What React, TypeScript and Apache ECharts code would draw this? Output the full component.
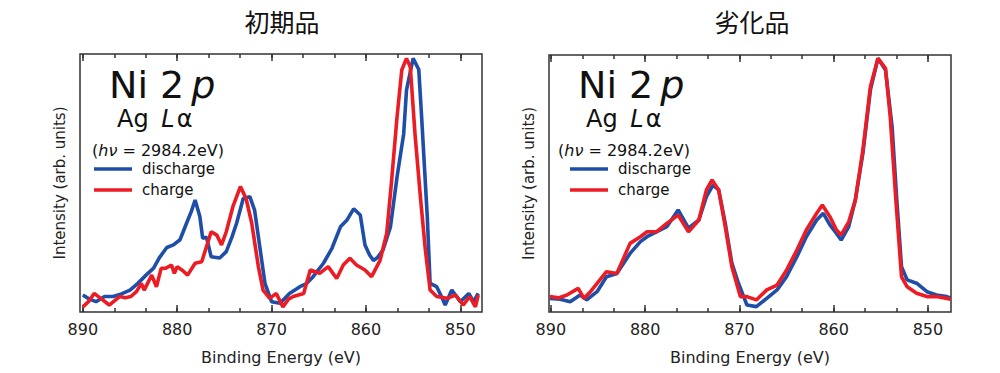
import React, { useEffect, useRef } from "react";
import * as echarts from "echarts";

// Binding energy (eV) vs normalized intensity
const initialDischarge: [number, number][] = [
  [890.0, 0.066], [889.3, 0.05], [888.6, 0.04], [887.7, 0.06], [886.8, 0.06], [885.9, 0.07],
  [885.0, 0.085], [884.2, 0.11], [883.3, 0.143], [882.5, 0.17], [881.9, 0.21], [881.1, 0.25],
  [880.4, 0.26], [879.7, 0.28], [879.0, 0.345], [878.5, 0.39], [878.1, 0.434], [877.6, 0.37],
  [877.3, 0.286], [876.9, 0.29], [876.4, 0.214], [875.5, 0.209], [874.8, 0.234], [874.2, 0.29],
  [873.7, 0.345], [873.0, 0.44], [872.3, 0.447], [871.8, 0.395], [871.2, 0.24], [870.7, 0.111],
  [870.0, 0.04], [869.1, 0.034], [868.1, 0.072], [867.0, 0.098], [866.3, 0.11], [865.6, 0.137],
  [864.5, 0.189], [863.6, 0.247], [862.7, 0.33], [862.0, 0.357], [861.3, 0.4], [860.6, 0.376],
  [860.1, 0.26], [859.6, 0.22], [859.2, 0.2], [858.8, 0.21], [858.2, 0.24], [857.4, 0.33],
  [856.7, 0.524], [856.0, 0.69], [855.7, 0.86], [855.0, 0.983], [854.4, 0.94], [854.1, 0.757],
  [853.5, 0.37], [853.2, 0.111], [852.5, 0.098], [852.0, 0.06], [851.6, 0.027], [850.9, 0.085],
  [850.4, 0.06], [850.0, 0.04], [849.1, 0.072], [848.6, 0.04], [848.1, 0.072],
];
const initialCharge: [number, number][] = [
  [890.0, 0.02], [889.4, 0.04], [888.8, 0.072], [888.0, 0.05], [887.2, 0.027], [886.1, 0.06],
  [885.5, 0.055], [884.9, 0.06], [884.3, 0.08], [883.8, 0.111], [883.5, 0.085], [882.7, 0.143],
  [882.2, 0.098], [881.7, 0.169], [881.2, 0.17], [880.6, 0.182], [880.3, 0.15], [880.0, 0.176],
  [879.4, 0.16], [878.9, 0.143], [878.1, 0.189], [877.4, 0.195], [876.9, 0.253], [876.4, 0.311],
  [875.8, 0.298], [875.3, 0.26], [874.8, 0.311], [874.1, 0.408], [873.3, 0.486], [872.7, 0.44],
  [872.1, 0.344], [871.4, 0.176], [870.9, 0.085], [870.2, 0.053], [869.5, 0.072], [868.8, 0.02],
  [868.2, 0.05], [867.7, 0.06], [866.6, 0.072], [865.9, 0.163], [864.9, 0.15], [864.0, 0.176],
  [863.1, 0.13], [862.4, 0.182], [861.7, 0.208], [861.0, 0.182], [860.1, 0.163], [859.4, 0.137],
  [858.5, 0.2], [857.8, 0.305], [857.3, 0.5], [856.7, 0.757], [856.2, 0.938], [855.7, 0.983],
  [855.3, 0.95], [854.8, 0.69], [854.2, 0.434], [853.7, 0.24], [853.2, 0.085], [852.5, 0.06],
  [851.4, 0.053], [850.5, 0.066], [849.7, 0.027], [849.0, 0.06], [848.4, 0.02], [848.1, 0.066],
];
const degradedDischarge: [number, number][] = [
  [890.1, 0.053], [889.0, 0.05], [887.95, 0.04], [886.9, 0.066], [886.2, 0.047], [885.1, 0.079],
  [884.1, 0.137], [883.0, 0.15], [881.6, 0.228], [880.5, 0.274], [879.8, 0.293], [878.8, 0.312],
  [877.7, 0.332], [876.5, 0.397], [875.4, 0.326], [874.3, 0.358], [873.5, 0.449], [872.8, 0.494],
  [872.2, 0.475], [871.5, 0.345], [870.8, 0.19], [870.1, 0.112], [869.2, 0.027], [868.2, 0.021],
  [867.1, 0.053], [866.0, 0.086], [865.0, 0.137], [863.9, 0.215], [862.9, 0.293], [861.8, 0.358],
  [861.1, 0.384], [860.4, 0.339], [859.7, 0.306], [859.2, 0.28], [858.4, 0.332], [857.7, 0.436],
  [856.9, 0.617], [856.1, 0.864], [855.3, 0.987], [854.5, 0.942], [853.8, 0.721], [853.3, 0.436],
  [852.8, 0.176], [852.2, 0.125], [851.2, 0.112], [850.1, 0.079], [849.1, 0.066], [848.0, 0.06],
  [847.6, 0.055],
];
const degradedCharge: [number, number][] = [
  [890.1, 0.06], [889.2, 0.055], [888.3, 0.066], [887.1, 0.092], [886.5, 0.053], [885.8, 0.079],
  [884.8, 0.125], [884.1, 0.157], [883.0, 0.15], [881.6, 0.267], [880.5, 0.293], [879.8, 0.312],
  [878.8, 0.312], [877.7, 0.345], [876.5, 0.377], [875.4, 0.312], [874.3, 0.358], [873.5, 0.475],
  [872.9, 0.514], [872.2, 0.475], [871.5, 0.332], [870.8, 0.176], [869.9, 0.06], [869.2, 0.06],
  [868.2, 0.047], [867.1, 0.086], [866.0, 0.105], [865.0, 0.163], [863.9, 0.241], [862.9, 0.319],
  [861.8, 0.384], [861.2, 0.416], [860.4, 0.371], [859.7, 0.319], [859.2, 0.3], [858.4, 0.351],
  [857.7, 0.436], [856.9, 0.63], [856.1, 0.877], [855.3, 0.987], [854.5, 0.948], [854.0, 0.76],
  [853.4, 0.436], [852.8, 0.137], [852.2, 0.098], [851.2, 0.073], [850.1, 0.06], [849.1, 0.06],
  [848.0, 0.053], [847.6, 0.05],
];

const majorTicks = [850, 860, 870, 880, 890];
const minorTicks = [
  850, 853.333, 856.667, 860, 863.333, 866.667, 870, 873.333, 876.667, 880, 883.333, 886.667, 890,
];
const panelTitles = ["初期品", "劣化品"];
const seriesNames = ["discharge", "charge"];

const BLUE = "#1f4ea8";
const RED = "#ec1c24";
const FONT = "'DejaVu Sans', Verdana, sans-serif";

export default function App() {
  const ref = useRef<HTMLDivElement>(null);
  useEffect(() => {
    if (!ref.current) return;
    const chart = echarts.init(ref.current, null, { renderer: "svg" });

    const xRanges = [
      [847.7, 890.3],
      [847.55, 890.2],
    ];
    const xAxes: any[] = [];
    xRanges.forEach(([mn, mx], g) => {
      const base = {
        type: "value",
        gridIndex: g,
        min: mn,
        max: mx,
        inverse: true,
        axisLine: { show: false },
        splitLine: { show: false },
      };
      const tickStyle = { color: "#333", width: 1.5 };
      xAxes.push({
        ...base,
        position: "bottom",
        name: "Binding Energy (eV)",
        nameLocation: "middle",
        nameGap: 37,
        nameTextStyle: { fontFamily: FONT, fontSize: 16, color: "#222" },
        axisTick: { show: true, inside: true, length: 7, customValues: majorTicks, lineStyle: tickStyle },
        axisLabel: { show: true, customValues: majorTicks, margin: 9, fontFamily: FONT, fontSize: 16, color: "#222" },
      });
      xAxes.push({
        ...base,
        position: "bottom",
        axisTick: { show: true, inside: true, length: 4, customValues: minorTicks, lineStyle: tickStyle },
        axisLabel: { show: false },
      });
      xAxes.push({
        ...base,
        position: "top",
        axisTick: { show: true, inside: true, length: 7, customValues: majorTicks, lineStyle: tickStyle },
        axisLabel: { show: false },
      });
      xAxes.push({
        ...base,
        position: "top",
        axisTick: { show: true, inside: true, length: 4, customValues: minorTicks, lineStyle: tickStyle },
        axisLabel: { show: false },
      });
    });

    const yAxes = [0, 1].map((g) => ({
      type: "value",
      gridIndex: g,
      min: 0,
      max: 1,
      axisLine: { show: false },
      axisTick: { show: false },
      axisLabel: { show: false },
      splitLine: { show: false },
      name: "Intensity (arb. units)",
      nameLocation: "middle",
      nameGap: 13,
      nameTextStyle: { fontFamily: FONT, fontSize: 15, color: "#222" },
    }));

    const line = (name: string, data: [number, number][], color: string, xi: number, yi: number) => ({
      type: "line",
      name,
      data,
      xAxisIndex: xi,
      yAxisIndex: yi,
      showSymbol: false,
      symbol: "none",
      smooth: false,
      lineStyle: { color, width: 3.6 },
      itemStyle: { color },
      clip: true,
    });

    const annot = (x0: number, hvX: number, legX: number, textX: number) => [
      {
        type: "text",
        style: {
          x: x0,
          y: 85,
          verticalAlign: "middle",
          text: "{a|Ni 2}{b|p}",
          rich: {
            a: { fontFamily: FONT, fontSize: 38, fill: "#111" },
            b: { fontFamily: FONT, fontSize: 38, fontStyle: "italic", fill: "#111", padding: [0, 0, 0, 7] },
          },
        },
      },
      {
        type: "text",
        style: {
          x: x0 + 8,
          y: 119,
          verticalAlign: "middle",
          text: "{a|Ag }{b|L}{c|α}",
          rich: {
            a: { fontFamily: FONT, fontSize: 24, fill: "#111" },
            b: { fontFamily: FONT, fontSize: 24, fontStyle: "italic", fill: "#111", padding: [0, 0, 0, 5] },
            c: { fontFamily: FONT, fontSize: 24, fill: "#111", padding: [0, 0, 0, 2] },
          },
        },
      },
      {
        type: "text",
        style: {
          x: hvX,
          y: 150,
          verticalAlign: "middle",
          text: "{a|(}{b|hν}{a| = 2984.2eV)}",
          rich: {
            a: { fontFamily: FONT, fontSize: 16, fill: "#111" },
            b: { fontFamily: FONT, fontSize: 16, fontStyle: "italic", fill: "#111" },
          },
        },
      },
      {
        type: "line",
        shape: { x1: legX, y1: 169, x2: legX + 38, y2: 169 },
        style: { stroke: BLUE, lineWidth: 3.6 },
      },
      {
        type: "text",
        style: { x: textX, y: 169, verticalAlign: "middle", text: seriesNames[0], font: `15px ${FONT}`, fill: "#111" },
      },
      {
        type: "line",
        shape: { x1: legX, y1: 190, x2: legX + 38, y2: 190 },
        style: { stroke: RED, lineWidth: 3.6 },
      },
      {
        type: "text",
        style: { x: textX, y: 190, verticalAlign: "middle", text: seriesNames[1], font: `15px ${FONT}`, fill: "#111" },
      },
    ];

    chart.setOption({
      animation: false,
      backgroundColor: "#fff",
      grid: [
        { left: 80, right: 518, top: 54, bottom: 61, show: true, borderColor: "#333", borderWidth: 1.5, backgroundColor: "transparent" },
        { left: 549, right: 49, top: 55, bottom: 61, show: true, borderColor: "#333", borderWidth: 1.5, backgroundColor: "transparent" },
      ],
      xAxis: xAxes,
      yAxis: yAxes,
      series: [
        line(seriesNames[0], initialDischarge, BLUE, 0, 0),
        line(seriesNames[1], initialCharge, RED, 0, 0),
        line(seriesNames[0], degradedDischarge, BLUE, 4, 1),
        line(seriesNames[1], degradedCharge, RED, 4, 1),
      ],
      graphic: [
        {
          type: "text",
          style: { x: 282, y: 21, align: "center", verticalAlign: "middle", text: panelTitles[0], font: `25px 'Noto Sans CJK JP'`, fill: "#111" },
        },
        {
          type: "text",
          style: { x: 752, y: 21, align: "center", verticalAlign: "middle", text: panelTitles[1], font: `25px 'Noto Sans CJK JP'`, fill: "#111" },
        },
        ...annot(109, 92, 94, 142),
        ...annot(578, 558, 570, 618),
      ],
    });
    return () => chart.dispose();
  }, []);
  return <div ref={ref} style={{ position: "fixed", left: 0, top: 0, width: 1000, height: 373 }} />;
}
